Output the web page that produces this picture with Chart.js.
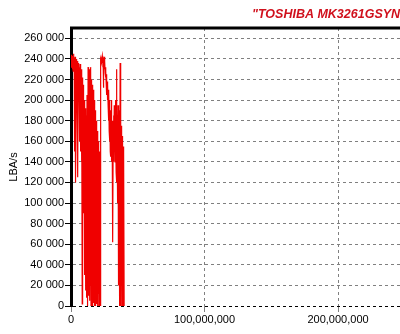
<!DOCTYPE html>
<html>
<head>
<meta charset="utf-8">
<script src="https://cdn.jsdelivr.net/npm/chart.js@4/dist/chart.umd.min.js"></script>
<style>
  html, body { margin: 0; padding: 0; background: #fff; overflow: hidden; }
  #wrap { width: 400px; height: 334px; }
</style>
</head>
<body>
<div id="wrap"><canvas id="chart-lba" width="400" height="334"></canvas></div>
<script>
// Drive model shown in the header
const driveName = '"TOSHIBA MK3261GSYN';

// One sample every 200,000 LBAs, starting at LBA 0
const sampleStep = 200000;

// Transfer rate per sample (LBA/s)
const rateValues = [
  232000, 238000, 244000, 236000, 241000, 230000, 243000, 237000, 228000, 240000,
  245000, 233000, 238000, 150000, 236000, 242000, 229000, 238000, 120000, 235000,
  240000, 226000, 234000, 180000, 238000, 230000, 125000, 236000, 224000, 232000,
  228000, 160000, 230000, 220000, 235000, 150000, 226000, 218000, 230000, 140000,
  225000, 210000, 2000, 222000, 170000, 215000, 130000, 210000, 90000, 200000,
  198000, 30000, 195000, 120000, 188000, 15000, 192000, 60000, 185000, 8000,
  205000, 40000, 200000, 0, 232000, 70000, 215000, 10000, 225000, 45000,
  230000, 5000, 218000, 20000, 232000, 0, 210000, 55000, 220000, 12000,
  215000, 0, 205000, 35000, 210000, 3000, 195000, 50000, 200000, 0,
  190000, 18000, 185000, 0, 180000, 40000, 175000, 2000, 170000, 25000,
  168000, 0, 160000, 12000, 155000, 0, 150000, 20000, 145000, 0,
  140000, 235000, 240000, 238000, 242000, 236000, 240000, 243000, 239000, 236000,
  241000, 238000, 212000, 237000, 242000, 235000, 230000, 238000, 226000, 232000,
  222000, 228000, 215000, 225000, 205000, 218000, 210000, 200000, 215000, 195000,
  205000, 180000, 210000, 170000, 200000, 160000, 195000, 150000, 190000, 145000,
  185000, 140000, 200000, 155000, 180000, 145000, 175000, 62000, 170000, 140000,
  185000, 145000, 195000, 150000, 190000, 140000, 200000, 155000, 175000, 130000,
  230000, 120000, 190000, 150000, 185000, 100000, 195000, 60000, 180000, 20000,
  190000, 0, 185000, 40000, 236000, 5000, 180000, 0, 175000, 30000,
  170000, 0, 165000, 15000, 160000, 0, 155000, 10000, 150000, 0,
  0
];

// Tick positions on both axes
const xTickValues = [0, 100000000, 200000000];
const yTickValues = [0, 20000, 40000, 60000, 80000, 100000, 120000, 140000,
  160000, 180000, 200000, 220000, 240000, 260000];

// Axis ranges
const xMax = 246400000;
const yMax = 270000;

const points = rateValues.map((v, i) => ({ x: i * sampleStep, y: v }));

function groupDigits(v, sep) {
  return String(Math.round(v)).replace(/\B(?=(\d{3})+(?!\d))/g, sep);
}

// Header text and thick top frame line
const framePlugin = {
  id: 'frame',
  afterDraw(chart) {
    const { ctx, chartArea } = chart;
    ctx.save();
    ctx.strokeStyle = '#000';
    ctx.lineWidth = 3;
    ctx.beginPath();
    ctx.moveTo(chartArea.left - 1, chartArea.top);
    ctx.lineTo(chart.width, chartArea.top);
    ctx.stroke();

    ctx.fillStyle = '#d0101c';
    ctx.font = 'italic bold 12.5px "Liberation Sans", Arial, sans-serif';
    ctx.textAlign = 'left';
    ctx.textBaseline = 'middle';
    ctx.fillText(driveName, 252, 15);
    ctx.restore();
  }
};

const tickFont = { family: '"Liberation Sans", Arial, sans-serif', size: 11 };

new Chart(document.getElementById('chart-lba').getContext('2d'), {
  type: 'line',
  data: {
    datasets: [{
      data: points,
      borderColor: '#f00000',
      borderWidth: 1.2,
      pointRadius: 0,
      tension: 0,
      fill: false
    }]
  },
  options: {
    responsive: false,
    animation: false,
    layout: { padding: { top: 28, right: 0, bottom: 0, left: 0 } },
    plugins: {
      legend: { display: false },
      tooltip: { enabled: false }
    },
    scales: {
      x: {
        type: 'linear',
        min: 0,
        max: xMax,
        afterBuildTicks(scale) {
          scale.ticks = xTickValues.map(v => ({ value: v }));
        },
        afterFit(scale) { scale.height = 28; },
        ticks: {
          autoSkip: false,
          color: '#000',
          font: tickFont,
          padding: 1,
          maxRotation: 0,
          callback: v => groupDigits(v, ',')
        },
        grid: {
          color: '#808080',
          tickLength: 6,
          tickColor: '#808080'
        },
        border: { display: false, dash: [3, 3] }
      },
      y: {
        min: 0,
        max: yMax,
        afterBuildTicks(scale) {
          scale.ticks = yTickValues.map(v => ({ value: v }));
        },
        afterFit(scale) { scale.width = 71; },
        ticks: {
          autoSkip: false,
          color: '#000',
          font: tickFont,
          padding: 1,
          callback: v => groupDigits(v, ' ')
        },
        grid: {
          color: ctx => (ctx.tick && ctx.tick.value === 0 ? '#000' : '#808080'),
          tickLength: 6,
          tickColor: '#000'
        },
        border: { display: true, color: '#000', width: 3, dash: [3, 3] },
        title: {
          display: true,
          text: 'LBA/s',
          color: '#000',
          font: tickFont,
          padding: { top: 7, bottom: 0 }
        }
      }
    }
  },
  plugins: [framePlugin]
});
</script>
</body>
</html>
